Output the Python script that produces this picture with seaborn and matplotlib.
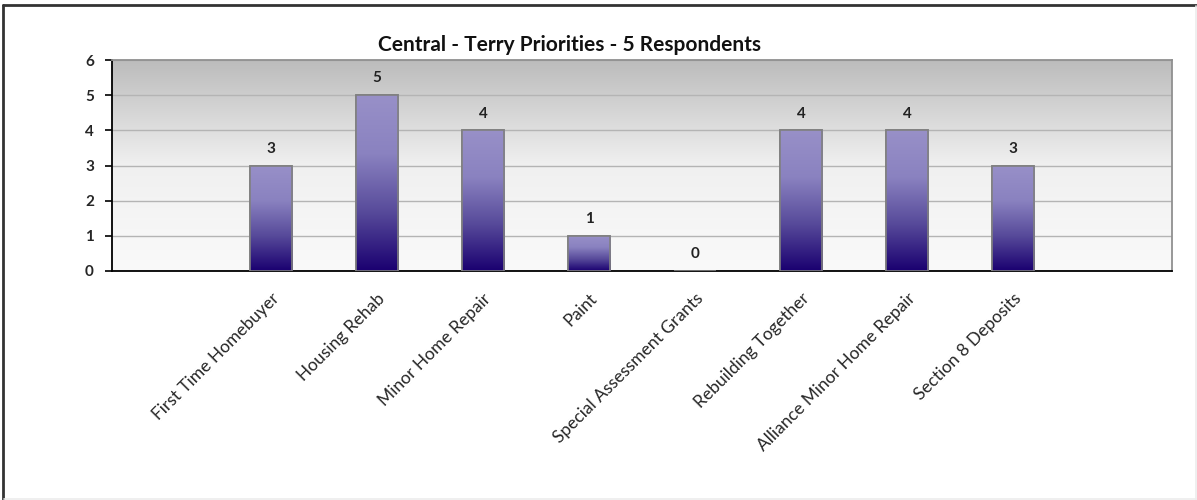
import numpy as np
import pandas as pd
import matplotlib
matplotlib.use('Agg')
import matplotlib.pyplot as plt
import seaborn as sns
from matplotlib.colors import LinearSegmentedColormap
from matplotlib.patches import Rectangle
from matplotlib.lines import Line2D

# Chart data
categories = ['', 'First Time Homebuyer', 'Housing Rehab', 'Minor Home Repair', 'Paint',
              'Special Assessment Grants', 'Rebuilding Together',
              'Alliance Minor Home Repair', 'Section 8 Deposits', ' ']
votes = [np.nan, 3, 5, 4, 1, 0, 4, 4, 3, np.nan]
title = 'Central - Terry Priorities - 5 Respondents'

df = pd.DataFrame({'cat': categories, 'votes': votes})

sns.set_style('white')
plt.rcParams['font.family'] = ['Lato', 'DejaVu Sans']

fig = plt.figure(figsize=(11.97, 5.0), dpi=100)
ax = fig.add_axes([112 / 1197, 1 - 271 / 500, 1060 / 1197, 211 / 500])

sns.barplot(x='cat', y='votes', data=df, ax=ax, width=0.4,
            color='#8f88c4', edgecolor='#808080', linewidth=1.2, zorder=3)

ax.set_ylim(0, 6)
ax.set_xlim(-0.5, len(categories) - 0.5)

# background gradient (grey top -> white bottom)
bg = LinearSegmentedColormap.from_list('bg', ['#fafafa', '#f0f0f0', '#bcbcbc'])
grad = np.linspace(0, 1, 256).reshape(-1, 1)
ax.imshow(grad, cmap=bg, aspect='auto', origin='lower',
          extent=[-0.5, len(categories) - 0.5, 0, 6], zorder=0)

# bar gradients
barcm = LinearSegmentedColormap.from_list('bar', ['#1a0070', '#574a9a', '#8a82c0', '#9890c8'])
for p in ax.patches:
    h = p.get_height()
    if not np.isfinite(h) or h <= 0:
        continue
    x0 = p.get_x()
    w = p.get_width()
    im = ax.imshow(grad, cmap=barcm, aspect='auto', origin='lower',
                   extent=[x0, x0 + w, 0, h], zorder=3.5)
    im.set_clip_path(p)
    ax.add_patch(Rectangle((x0, 0), w, h, fill=False, edgecolor='#808080',
                           linewidth=1.2, zorder=4))

ax.set_xlim(-0.5, len(categories) - 0.5)
ax.set_ylim(0, 6)

# data labels
for i, v in enumerate(votes):
    if np.isfinite(v):
        ax.annotate(f'{int(v)}', (i, v), xytext=(0, 7), textcoords='offset points',
                    ha='center', va='bottom', fontsize=11, fontweight='bold', color='#222222')

ax.yaxis.grid(True, color='#b4b4b4', linewidth=1, zorder=1)
for g in ax.get_ygridlines():
    g.set_zorder(1)

ax.set_yticks(range(0, 7))
ax.set_yticklabels([str(t) for t in range(0, 7)], fontsize=11, fontweight='bold')
ax.set_xticks(np.arange(-0.5, len(categories), 1), minor=True)
ax.set_xticks(range(len(categories)))
ax.set_xticklabels(categories, rotation=45, ha='right', rotation_mode='anchor', fontsize=12.5)
ax.tick_params(axis='x', which='major', length=0, pad=14)
ax.tick_params(axis='x', which='minor', length=5, width=1.2, color='black', direction='out')
ax.tick_params(axis='y', length=5, width=1.2, color='black', direction='out', left=True, pad=8)
ax.set_xlabel('')
ax.set_ylabel('')

for s in ['left', 'bottom']:
    ax.spines[s].set_color('black')
    ax.spines[s].set_linewidth(1.3)
for s in ['top', 'right']:
    ax.spines[s].set_visible(True)
    ax.spines[s].set_color('#909090')
    ax.spines[s].set_linewidth(1.3)

fig.text(570 / 1197, 1 - 45 / 500, title, ha='center', va='center',
         fontsize=15, fontweight='bold', color='#111111')

# outer chart frame (only left and top visible), light edge at right/bottom
fig.lines.append(Line2D([3 / 1197, 3 / 1197], [0, 1 - 5 / 500], transform=fig.transFigure,
                        color='#333333', linewidth=2))
fig.lines.append(Line2D([3 / 1197, 1], [1 - 5 / 500, 1 - 5 / 500], transform=fig.transFigure,
                        color='#333333', linewidth=2))
fig.lines.append(Line2D([1195.5 / 1197, 1195.5 / 1197], [0, 1 - 6 / 500], transform=fig.transFigure,
                        color='#ececec', linewidth=1.2))
fig.lines.append(Line2D([4 / 1197, 1195.5 / 1197], [1.5 / 500, 1.5 / 500], transform=fig.transFigure,
                        color='#ececec', linewidth=1.2))

fig.savefig('out.png', dpi=100)
